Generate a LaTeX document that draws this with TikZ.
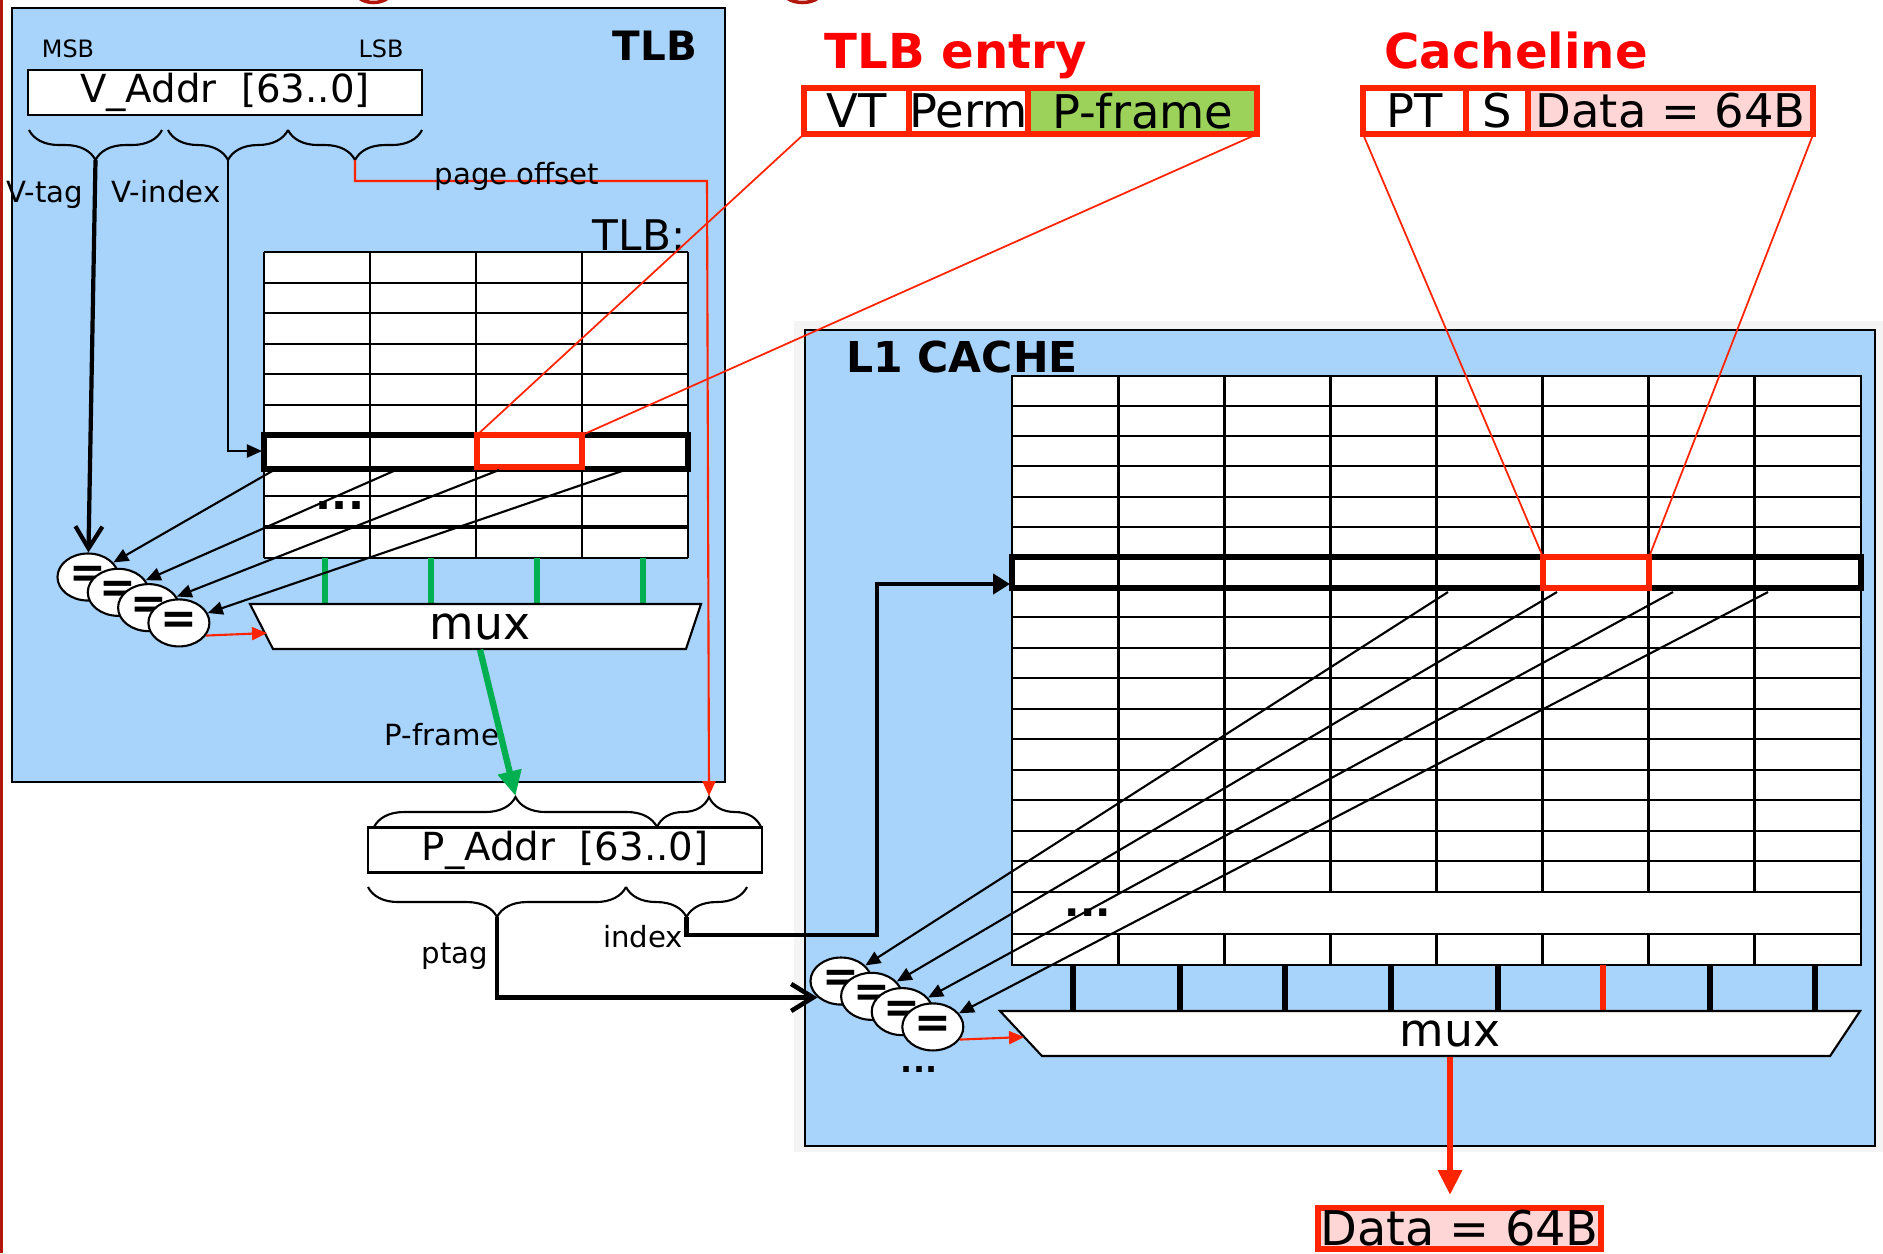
\documentclass[tikz,border=0pt]{standalone}
\usepackage{fontspec}
\setmainfont{DejaVu Sans}
\usetikzlibrary{arrows.meta, positioning, shapes.geometric, decorations.pathreplacing}
\definecolor{cblue}{HTML}{A8D4FC}
\definecolor{cred}{HTML}{FF2400}
\definecolor{ctitle}{HTML}{FF0000}
\definecolor{cgreen}{HTML}{00B050}
\definecolor{cframe}{HTML}{9CD25A}
\definecolor{cpink}{HTML}{FFD6D6}
\definecolor{cmaroon}{HTML}{B2160C}
\definecolor{cshade}{HTML}{F4F4F4}
\tikzset{
  every picture/.style={x=0.01cm, y=-0.01cm},
  unitbox/.style={draw=black, fill=cblue, line width=0.7pt},
  unitname/.style={font=\bfseries\fontsize{#1}{#1}\selectfont, anchor=base, inner sep=0pt},
  heading/.style={font=\bfseries\fontsize{13.7}{14}\selectfont, text=ctitle, anchor=base, inner sep=0pt},
  lbl/.style={font=\fontsize{#1}{#1}\selectfont, anchor=base, inner sep=0pt},
  lbl/.default=8.3,
  addr/.style={draw=black, fill=white, line width=0.6pt, minimum width=3.93cm, minimum height=0.45cm, inner sep=0pt, font=\fontsize{11}{12}\selectfont},
  field/.style={draw=cred, fill=#1, line width=1.6pt, outer sep=0pt, inner sep=0pt, minimum height=0.46cm, font=\fontsize{13.2}{14}\selectfont},
  field/.default=white,
  gridline/.style={line width=0.8pt},
  rowframe/.style={draw=black, line width=1.8pt},
  hitcell/.style={draw=cred, line width=1.8pt},
  zoomline/.style={draw=cred, line width=0.5pt},
  eqnode/.style={ellipse, draw, fill=white, line width=0.6pt, minimum width=0.61cm, minimum height=0.47cm, inner sep=0pt, font=\bfseries\fontsize{12.5}{12.5}\selectfont},
  dotnode/.style={font=\bfseries\fontsize{#1}{#1}\selectfont, inner sep=0pt},
  muxshape/.style={draw=black, fill=white, line width=0.6pt},
  muxtext/.style={minimum height=0.45cm, inner sep=0pt, font=\fontsize{13}{13}\selectfont},
  feedline/.style={draw=#1, line width=1.7pt},
  thinlink/.style={-{Triangle[length=0.15cm, width=0.13cm]}, line width=0.6pt},
  redlink/.style={thinlink, draw=cred},
  barbline/.style={-{Straight Barb[length=0.22cm, width=0.27cm]}, line width=1.2pt},
  busline/.style={-{Triangle[length=0.17cm, width=0.2cm]}, line width=1.3pt},
  bigarrow/.style={draw=#1, -{Triangle[length=0.25cm, width=0.23cm]}, line width=1.8pt},
  curly/.style={decorate, decoration={brace, amplitude=0.3cm}, line width=0.6pt},
}
\begin{document}
\begin{tikzpicture}
  \useasboundingbox (0,0) rectangle (1883,1253);
  \fill[cmaroon] (0,0) rectangle (3,1253);
  \draw[cmaroon, line width=1pt] (359,-2) .. controls (367,4) and (380,4) .. (388,-2);
  \draw[cmaroon, line width=1pt] (787,-2) .. controls (795,4) and (810,4) .. (818,-2);

  % TLB side
  \draw[unitbox] (12,8) rectangle (725,782);
  \node[unitname=11.5] (tlbname) at (655,60) {TLB};
  \node[lbl=6.8] (msb) at (68,57) {MSB};
  \node[lbl=6.8] (lsb) at (381,57) {LSB};
  \node[addr] (vaddr) at (225,92.5) {V\_Addr\ \ [63..0]};
  \draw[curly] (162,130) -- (29,130);
  \draw[curly] (288,130) -- (168,130);
  \draw[curly] (422,130) -- (288,130);
  \coordinate (vtag) at (95.5,160);
  \coordinate (vidx) at (228,160);
  \coordinate (poff) at (355,160);
  \node[lbl] (vtaglbl) at (45,202) {V-tag};
  \node[lbl] (vidxlbl) at (166,202) {V-index};
  \node[font=\fontsize{12}{12}\selectfont, anchor=base, inner sep=0pt] (tlbcap) at (639,250) {TLB:};

  \fill[white] (264,252) rectangle (688,558);
  \foreach \y in {252,283,313,344,374,405,496,558} \draw[gridline] (264,\y) -- (688,\y);
  \draw[gridline, line width=1.4pt] (264,527) -- (688,527);
  \foreach \x in {264,370,476,582,688} \draw[gridline] (\x,252) -- (\x,558);
  \draw[rowframe] (264,435) rectangle (688,469);
  \draw[hitcell] (477,435) rectangle (582,467);
  \node[dotnode=12] (tdots) at (340,505) {...};
  \coordinate (trowin) at (262,451);

  \foreach \x in {325,431,537,643} \draw[feedline=cgreen] (\x,558) -- (\x,604);
  \draw[muxshape] (250,604) -- (701,604) -- (686,649) -- (273,649) -- cycle;
  \node[muxtext] (tmux) at (480,626.5) {mux};
  \foreach \i in {1,...,4} \node[eqnode] (te\i) at ({88+30.3*(\i-1)},{577+15.3*(\i-1)}) {=};
  \foreach \x/\i in {274/1,396/2,499/3,625/4} \draw[thinlink] (\x,470) -- (te\i);
  \draw[redlink] (te4.335) -- (267,633);
  \draw[barbline] (vtag) -- (te1);
  \draw[thinlink] (vidx) |- (trowin);

  % physical address
  \node[addr] (paddr) at (565,850) {P\_Addr\ \ [63..0]};
  \draw[curly] (374,827) -- (657,827);
  \draw[curly] (657,827) -- (761,827);
  \draw[curly] (626,887) -- (368,887);
  \draw[curly] (747,887) -- (626,887);
  \coordinate (pfr) at (515.5,796);
  \coordinate (pofs) at (709,796);
  \coordinate (ptagtip) at (497,917);
  \coordinate (idxtip) at (686.5,917);
  \draw[redlink] (poff) |- (707,181) -- (pofs);
  \node[lbl] (pofflbl) at (517,184) {page offset};
  \draw[bigarrow=cgreen] (tmux.south) -- (pfr);
  \node[lbl] (pfrlbl) at (442,745) {P-frame};
  \node[lbl] (ptaglbl) at (455,963) {ptag};
  \node[lbl] (idxlbl) at (643,947) {index};

  % L1 cache side
  \fill[cshade] (794,321) rectangle (1883,1152);
  \draw[unitbox] (805,330) rectangle (1875,1146);
  \node[unitname=12.1] (l1name) at (962,372) {L1 CACHE};
  \fill[white] (1012,376) rectangle (1861,965);
  \foreach \y in {406,436,466,497,527,617,648,678,709,739,770,800,831,861,892,934} \draw[gridline] (1012,\y) -- (1861,\y);
  \draw[gridline] (1012,376) rectangle (1861,965);
  \foreach \k in {1,...,7} {
    \draw[gridline] ({1012+106.1*\k},376) -- ({1012+106.1*\k},892);
    \draw[gridline] ({1012+106.1*\k},934) -- ({1012+106.1*\k},965); }
  \draw[rowframe] (1012,557) rectangle (1861,588);
  \draw[hitcell] (1543,557) rectangle (1649,588);
  \node[dotnode=11.5] (cdots) at (1088,913) {...};
  \coordinate (crowin) at (1010,584);

  \foreach \x in {1073,1180,1285,1391,1498,1710,1815} \draw[feedline=black] (\x,965) -- (\x,1011);
  \draw[feedline=cred] (1603,965) -- (1603,1011);
  \draw[muxshape] (1000,1011) -- (1860,1011) -- (1830,1056) -- (1042,1056) -- cycle;
  \node[muxtext] (cmux) at (1450,1033.5) {mux};
  \foreach \i in {1,...,4} \node[eqnode] (ce\i) at ({841+30.6*(\i-1)},{981+15.3*(\i-1)}) {=};
  \node[dotnode=9] (edots) at (919,1069) {...};
  \foreach \x/\i in {1448/1,1557/2,1673/3,1768/4} \draw[thinlink] (\x,592) -- (ce\i);
  \draw[redlink] (ce4.335) -- (1024,1037);
  \draw[barbline, line width=1.3pt] (ptagtip) |- (ce1.215);
  \draw[busline] (idxtip) |- (877,935) |- (crowin);

  % entry and line layouts
  \node[heading] (tlbentry) at (956,68) {TLB entry};
  \node[field, minimum width=1.05cm] (vt) at (856.5,111) {VT};
  \node[field, minimum width=1.19cm, right=0pt of vt] (perm) {Perm};
  \node[field=cframe, minimum width=2.29cm, right=0pt of perm] (pframe) {P-frame};
  \node[heading] (cacheline) at (1516,68) {Cacheline};
  \node[field, minimum width=1.03cm] (pt) at (1414.5,111) {PT};
  \node[field, minimum width=0.62cm, right=0pt of pt] (st) {S};
  \node[field=cpink, minimum width=2.85cm, right=0pt of st] (data) {Data = 64B};
  \draw[zoomline] (vt.south west) -- (477,435);
  \draw[zoomline] (pframe.south east) -- (582,435);
  \draw[zoomline] (pt.south west) -- (1543,557);
  \draw[zoomline] (data.south east) -- (1649,557);

  \node[field=cpink, minimum width=2.83cm, minimum height=0.41cm, font=\fontsize{13.6}{14}\selectfont] (dout) at (1459.5,1228.5) {Data = 64B};
  \draw[bigarrow=cred, shorten >=0.13cm] (cmux.south) -- (cmux.south |- dout.north);
\end{tikzpicture}
\end{document}
